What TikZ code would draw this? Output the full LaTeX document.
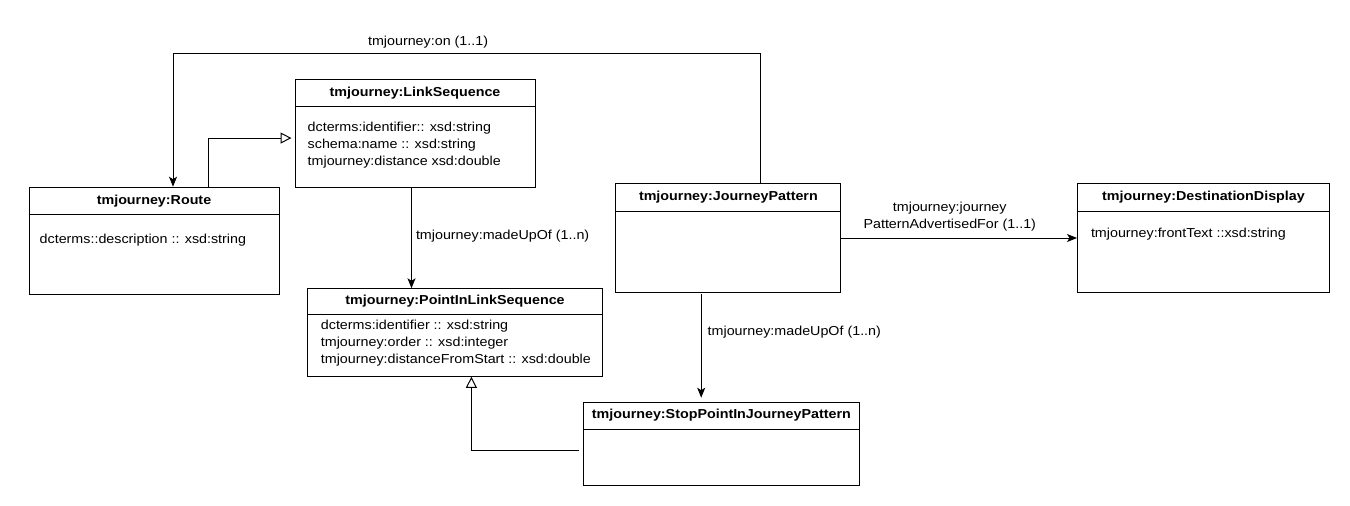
\documentclass[tikz,border=0pt]{standalone}
\usepackage{fontspec}
\setmainfont{Liberation Sans}[FakeStretch=1.1]
\usetikzlibrary{arrows.meta,positioning}

\begin{document}
\begin{tikzpicture}[x=1pt,y=-1pt,
  font=\fontsize{13}{17}\selectfont,
  cls/.style={draw,line width=1pt,anchor=north west,inner sep=0pt},
  title/.style={font=\fontsize{13}{17}\selectfont\bfseries,inner sep=0pt},
  attr/.style={align=left,inner sep=0pt,anchor=north west},
  assoc/.style={line width=1pt,-{Stealth[length=10pt,width=8pt,inset=2.5pt]}},
  gen/.style={line width=1pt,-{Triangle[open,length=11pt,width=11pt,fill=white]}}]

  \useasboundingbox (0,0) rectangle (1350,506);

  % classes
  \node[cls,minimum width=250pt,minimum height=107pt] (route) at (28.5,186.7) {};
  \node[title] (routetitle) at ([yshift=-14pt]route.north) {tmjourney:Route};
  \draw[line width=1pt] ([yshift=-28pt]route.north west) -- ([yshift=-28pt]route.north east);
  \node[attr] (routeattr) at ([xshift=11pt,yshift=-47pt]route.north west) {dcterms::description :: xsd:string};

  \node[cls,minimum width=240pt,minimum height=107.5pt] (lseq) at (294.5,79.3) {};
  \node[title] (lseqtitle) at ([yshift=-13.7pt]lseq.north) {tmjourney:LinkSequence};
  \draw[line width=1pt] ([yshift=-27.4pt]lseq.north west) -- ([yshift=-27.4pt]lseq.north east);
  \node[attr] (lseqattr) at ([xshift=13pt,yshift=-42.7pt]lseq.north west)
    {dcterms:identifier:: xsd:string\\schema:name :: xsd:string\\tmjourney:distance xsd:double};

  \node[cls,minimum width=295pt,minimum height=87.5pt] (pils) at (307,288.3) {};
  \node[title] (pilstitle) at ([yshift=-13pt]pils.north) {tmjourney:PointInLinkSequence};
  \draw[line width=1pt] ([yshift=-26pt]pils.north west) -- ([yshift=-26pt]pils.north east);
  \node[attr] (pilsattr) at ([xshift=13.7pt,yshift=-31.4pt]pils.north west)
    {dcterms:identifier :: xsd:string\\tmjourney:order :: xsd:integer\\tmjourney:distanceFromStart :: xsd:double};

  \node[cls,minimum width=225pt,minimum height=108.4pt] (jp) at (615.4,183.3) {};
  \node[title] (jptitle) at ([yshift=-14pt]jp.north) {tmjourney:JourneyPattern};
  \draw[line width=1pt] ([yshift=-28pt]jp.north west) -- ([yshift=-28pt]jp.north east);

  \node[cls,minimum width=252pt,minimum height=108.4pt] (dd) at (1077,183.3) {};
  \node[title] (ddtitle) at ([yshift=-14pt]dd.north) {tmjourney:DestinationDisplay};
  \draw[line width=1pt] ([yshift=-28pt]dd.north west) -- ([yshift=-28pt]dd.north east);
  \node[attr] (ddattr) at ([xshift=13.8pt,yshift=-44.4pt]dd.north west) {tmjourney:frontText ::xsd:string};

  \node[cls,minimum width=276.3pt,minimum height=83.3pt] (sp) at (582.7,401.7) {};
  \node[title] (sptitle) at ([yshift=-13.8pt]sp.north) {tmjourney:StopPointInJourneyPattern};
  \draw[line width=1pt] ([yshift=-27.6pt]sp.north west) -- ([yshift=-27.6pt]sp.north east);

  % connectors
  \coordinate (onturn) at (173,53.3);
  \draw[assoc] ([xshift=32.3pt]jp.north) |- node[pos=0.783,above=3pt,inner sep=2pt] {tmjourney:on (1..1)} (onturn)
    -- (route.north -| onturn);
  \draw[gen,shorten >=3pt] ([xshift=54pt]route.north) |- ([yshift=-4.5pt]lseq.west);
  \draw[assoc] ([xshift=-3.5pt]lseq.south) -- ([xshift=-3.5pt]lseq.south |- pils.north)
    node[pos=0.485,right=2pt,inner sep=2pt] {tmjourney:madeUpOf (1..n)};
  \draw[assoc] (jp.east) -- (dd.west)
    node[pos=0.46,above=4pt,inner sep=2pt,align=center] {tmjourney:journey\\PatternAdvertisedFor (1..1)};
  \draw[assoc,shorten <=1.3pt,shorten >=4pt] ([xshift=-27.2pt]jp.south) -- ([xshift=-27.2pt]jp.south |- sp.north)
    node[pos=0.36,right=4pt,inner sep=2pt] {tmjourney:madeUpOf (1..n)};
  \draw[gen,shorten <=4pt] ([yshift=-6.5pt]sp.west) -| ([xshift=16.4pt]pils.south);
\end{tikzpicture}
\end{document}
